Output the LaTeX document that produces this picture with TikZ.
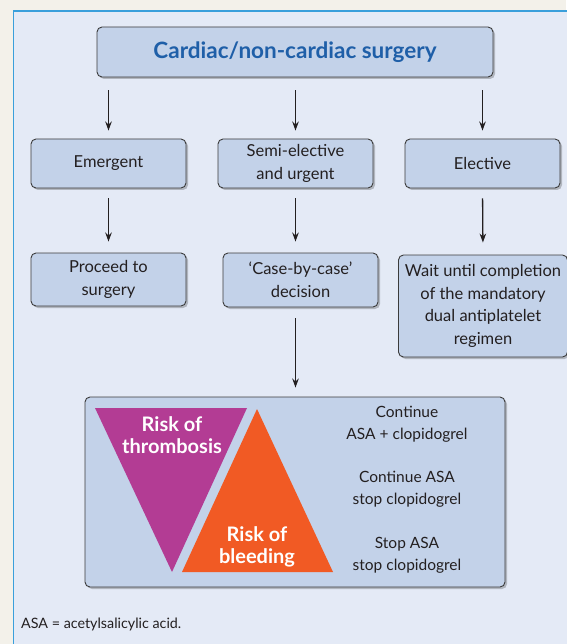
\documentclass[tikz,border=0pt]{standalone}
\usepackage{fontspec}
\setmainfont{Lato}
\usetikzlibrary{arrows.meta,shadows}
\definecolor{pagebg}{HTML}{F3F1EA}
\definecolor{panelbg}{HTML}{E4EAF6}
\definecolor{panelline}{HTML}{3A9FDB}
\definecolor{boxfill}{HTML}{C3D2E9}
\definecolor{boxline}{HTML}{3B3B3B}
\definecolor{titleblue}{HTML}{1F5FA8}
\definecolor{magentatri}{HTML}{B33C94}
\definecolor{orangetri}{HTML}{F15A24}
\definecolor{txt}{HTML}{231F20}
\tikzset{
  flowbox/.style={draw=boxline, line width=0.9pt, fill=boxfill, rounded corners=5pt,
    align=center, inner sep=0pt, text=txt,
    font=\fontsize{16.5}{22.5}\selectfont,
    drop shadow={shadow xshift=2pt, shadow yshift=-2pt, fill=black, opacity=0.22}},
  arr/.style={-{Stealth[length=9pt,width=6.5pt]}, line width=1.3pt, draw=txt},
  plain/.style={align=center, text=txt, font=\fontsize{15.5}{22}\selectfont, inner sep=0pt},
  trilabel/.style={align=center, text=white, font=\bfseries\fontsize{20}{22}\selectfont, inner sep=0pt}
}
\begin{document}
\begin{tikzpicture}[x=1pt,y=-1pt]
\useasboundingbox (0,0) rectangle (566,644);
\fill[pagebg] (0,0) rectangle (566,644);
\draw[panelline, line width=1.4pt, fill=panelbg] (13.5,11) rectangle (580,660);

\node[flowbox, minimum width=396pt, minimum height=50pt, text=titleblue,
  font=\bfseries\fontsize{22.5}{26}\selectfont] (top) at (295,52) {Cardiac/non-cardiac surgery};

\node[flowbox, minimum width=155pt, minimum height=49pt] (em) at (108.5,163.5) {Emergent};
\node[flowbox, minimum width=155pt, minimum height=49pt] (semi) at (295.5,163.5) {Semi-elective\\and urgent};
\node[flowbox, minimum width=155pt, minimum height=49pt] (el) at (482.5,163.5) {Elective};

\node[flowbox, minimum width=155pt, minimum height=53pt] (proc) at (108.5,279.5) {Proceed to\\surgery};
\node[flowbox, minimum width=155pt, minimum height=54pt] (case) at (300.5,280) {‘Case-by-case’\\decision};
\node[flowbox, minimum width=169pt, minimum height=102pt] (wait) at (483,306) {Wait until completion\\of the mandatory\\dual antiplatelet\\regimen};

\node[flowbox, minimum width=420pt, minimum height=190pt] (bot) at (295,492) {};

\draw[arr, shorten <=13pt, shorten >=8pt] (top.south -| em.north) -- (em.north);
\draw[arr, shorten <=13pt, shorten >=8pt] (top.south -| semi.north) -- (semi.north);
\draw[arr, shorten <=13pt, shorten >=8pt] (top.south -| el.north) -- (el.north);

\draw[arr, shorten <=10pt, shorten >=11pt] (em.south) -- (proc.north);
\draw[arr, shorten <=10pt, shorten >=11pt] (semi.south) -- (semi.south |- case.north);
\draw[arr, shorten <=10pt, shorten >=12pt] (el.south) -- (wait.north);

\draw[arr, shorten <=11pt, shorten >=9pt] (semi.south |- case.south) -- (semi.south |- bot.north);

% triangles
\coordinate (m1) at (95,408);
\coordinate (m2) at (247,408);
\coordinate (m3) at (172,572);
\coordinate (o1) at (257,409);
\coordinate (o2) at (182,572);
\coordinate (o3) at (333,572);
\fill[magentatri] (m1) -- (m2) -- (m3) -- cycle;
\fill[orangetri] (o1) -- (o2) -- (o3) -- cycle;

\node[trilabel] (thr) at (172,435) {Risk of\\thrombosis};
\node[trilabel] (bld) at (257,547) {Risk of\\bleeding};

\node[plain] (c1) at (407,424) {Continue\\ASA + clopidogrel};
\node[plain] (c2) at (407,489) {Continue ASA\\stop clopidogrel};
\node[plain] (c3) at (407,555) {Stop ASA\\stop clopidogrel};

\node[anchor=west, text=txt, inner sep=0pt, font=\fontsize{14.3}{17}\selectfont] (fn) at (21,624) {ASA = acetylsalicylic acid.};
\end{tikzpicture}
\end{document}
